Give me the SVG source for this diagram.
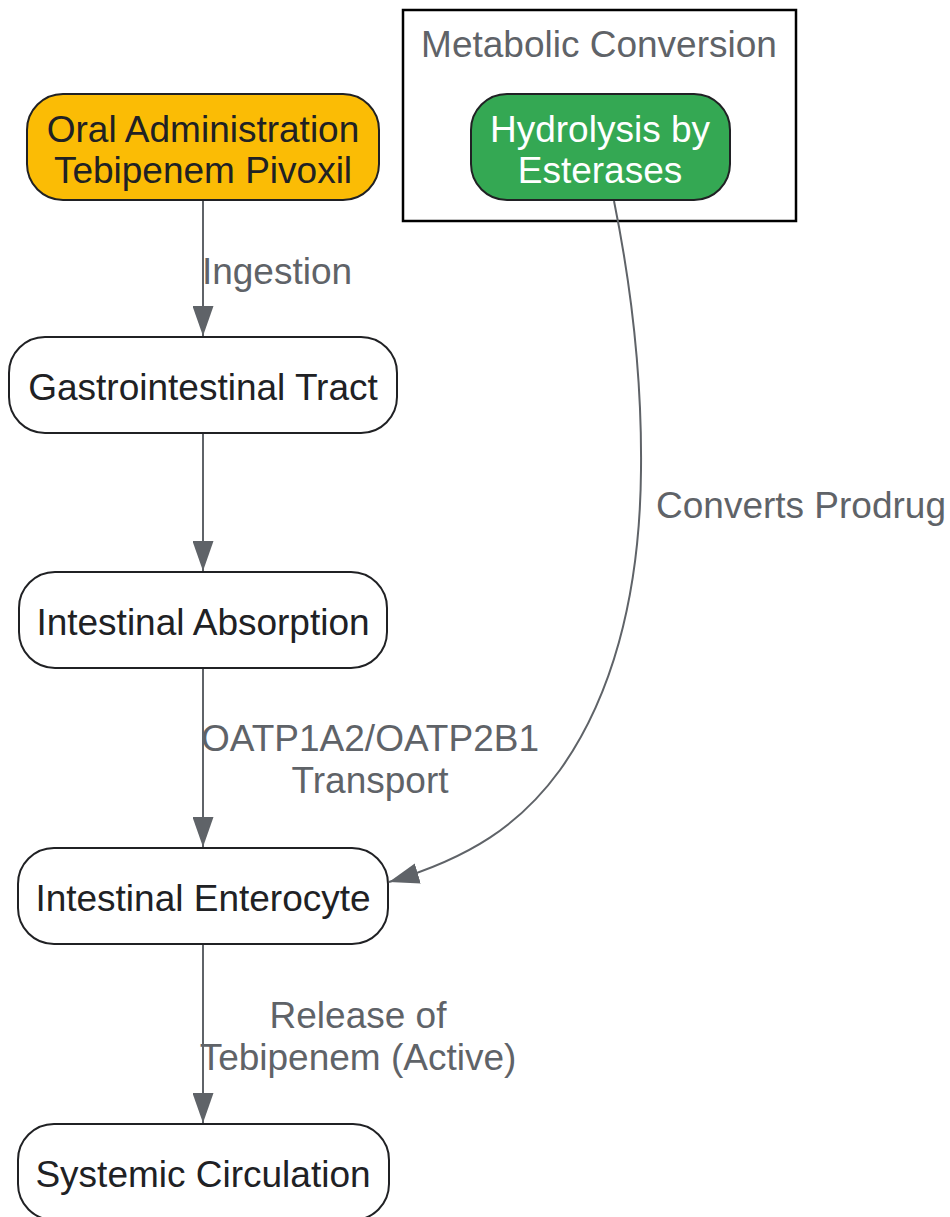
<svg xmlns="http://www.w3.org/2000/svg" width="950" height="1217" viewBox="0 0 950 1217">
<style>
text{font-family:"Liberation Sans",Arial,sans-serif;font-size:37px;text-anchor:middle}
.node rect{stroke:#202124;stroke-width:2}
.ntext{fill:#202124}
.elabel{fill:#5f6368}
.edge{fill:none;stroke:#5f6368;stroke-width:2}
</style>
<defs>
<marker id="arrow" viewBox="0 0 30 21" refX="30" refY="10.5" markerWidth="30" markerHeight="21" markerUnits="userSpaceOnUse" orient="auto">
<path d="M0,0 L30,10.5 L0,21 z" fill="#5f6368"/>
</marker>
</defs>
<rect width="950" height="1217" fill="#ffffff"/>
<g id="cluster-metabolic">
<rect x="403" y="10" width="393" height="211" fill="#ffffff" stroke="#000000" stroke-width="2.5"/>
<text x="599" y="57" class="elabel">Metabolic Conversion</text>
</g>
<g id="connectors">
<path class="edge" d="M203,200 L203,336" marker-end="url(#arrow)"/>
<path class="edge" d="M203,433 L203,571" marker-end="url(#arrow)"/>
<path class="edge" d="M203,668 L203,847" marker-end="url(#arrow)"/>
<path class="edge" d="M203,944 L203,1123" marker-end="url(#arrow)"/>
<path class="edge" d="M614,201 C632,290 642,380 641,470 C640,600 610,700 560,770 C520,825 470,858 389,882" marker-end="url(#arrow)"/>
<text x="277" y="284" class="elabel">Ingestion</text>
<text x="370" y="751" class="elabel">OATP1A2/OATP2B1</text>
<text x="370" y="793" class="elabel">Transport</text>
<text x="358" y="1028" class="elabel">Release of</text>
<text x="358" y="1070" class="elabel">Tebipenem (Active)</text>
<text x="656" y="518" class="elabel" style="text-anchor:start">Converts Prodrug</text>
</g>
<g id="node-oral" class="node">
<rect x="27" y="94" width="352" height="106" rx="36" fill="#FBBC05"/>
<text x="203" y="142" class="ntext">Oral Administration</text>
<text x="203" y="183" class="ntext">Tebipenem Pivoxil</text>
</g>
<g id="node-hydrolysis" class="node">
<rect x="471" y="94" width="259" height="106" rx="36" fill="#34A853"/>
<text x="600" y="142" fill="#ffffff">Hydrolysis by</text>
<text x="600" y="183" fill="#ffffff">Esterases</text>
</g>
<g id="node-gi" class="node">
<rect x="9" y="337" width="388" height="96" rx="36" fill="#ffffff"/>
<text x="203" y="400" class="ntext">Gastrointestinal Tract</text>
</g>
<g id="node-absorption" class="node">
<rect x="19" y="572" width="368" height="96" rx="36" fill="#ffffff"/>
<text x="203" y="635" class="ntext">Intestinal Absorption</text>
</g>
<g id="node-enterocyte" class="node">
<rect x="18" y="848" width="370" height="96" rx="36" fill="#ffffff"/>
<text x="203" y="911" class="ntext">Intestinal Enterocyte</text>
</g>
<g id="node-systemic" class="node">
<rect x="18" y="1124" width="371" height="96" rx="36" fill="#ffffff"/>
<text x="203" y="1187" class="ntext">Systemic Circulation</text>
</g>
</svg>
